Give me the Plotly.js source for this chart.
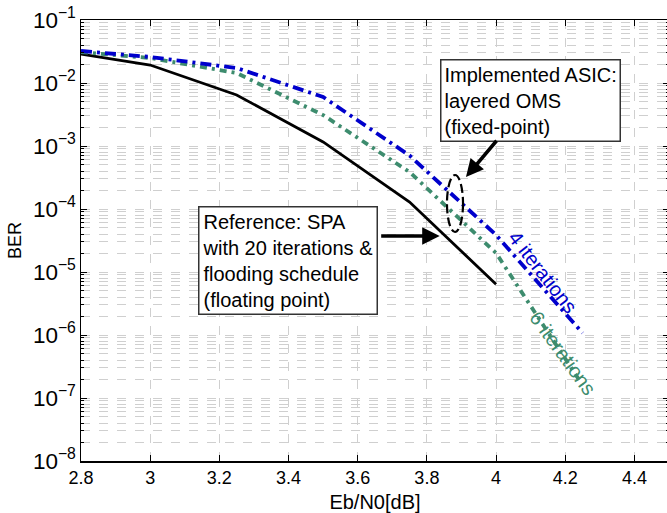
<!DOCTYPE html>
<html>
<head>
<meta charset="utf-8">
<script src="https://cdn.plot.ly/plotly-3.0.1.min.js"></script>
<style>html,body{margin:0;padding:0;overflow:hidden;background:#fff;}</style>
</head>
<body>
<div id="chart"></div>
<script>
// Eb/N0 [dB]
const snrRef = [2.8, 3.0, 3.25, 3.5, 3.75, 4.0];
const snrAsic = [2.8, 3.0, 3.25, 3.5, 3.75, 4.0, 4.25];
// BER values
const berSPA20 = [0.0288, 0.0193, 0.00646, 0.00116, 1.29e-4, 6.4e-6];
const berOMS4 = [0.0322, 0.0259, 0.0173, 0.0060, 7.05e-4, 3.87e-5, 1.08e-6];
const berOMS6 = [0.031, 0.0249, 0.0144, 0.0031, 3.86e-4, 2.0e-5, 1.6e-7];
const xTickVals = [2.8, 3.0, 3.2, 3.4, 3.6, 3.8, 4.0, 4.2, 4.4];
const xTickText = ['2.8', '3', '3.2', '3.4', '3.6', '3.8', '4', '4.2', '4.4'];

const FONT = 'Liberation Sans, Arial, Helvetica, sans-serif';
const BLUE = '#0000cc';
const GREEN = '#3d8c6e';
const GRID = '#cfcfcf';

const traces = [
  {x: snrRef, y: berSPA20, mode: 'lines', name: 'SPA 20 it.',
   line: {color: '#000000', width: 2.8}},
  {x: snrAsic, y: berOMS6, mode: 'lines', name: '6 iterations',
   line: {color: GREEN, width: 3.8, dash: '7px,5px,3px,5px'}},
  {x: snrAsic, y: berOMS4, mode: 'lines', name: '4 iterations',
   line: {color: BLUE, width: 3.8, dash: '11px,5px,3px,5px'}}
];

const layout = {
  width: 670, height: 513,
  margin: {l: 81, r: 1, t: 20, b: 52},
  paper_bgcolor: '#ffffff', plot_bgcolor: '#ffffff',
  showlegend: false,
  font: {family: FONT, size: 18, color: '#000'},
  xaxis: {
    range: [2.8, 4.5], tickvals: xTickVals, ticktext: xTickText,
    showline: true, linecolor: '#000', linewidth: 1.5, mirror: 'ticks',
    ticks: 'inside', ticklen: 6, tickcolor: '#000', tickwidth: 1,
    showgrid: true, gridcolor: GRID, griddash: 'dash', gridwidth: 1,
    zeroline: false, tickfont: {size: 18, family: FONT},
    title: {text: 'Eb/N0[dB]', font: {size: 20, family: FONT}, standoff: 10},
    automargin: false
  },
  yaxis: {
    type: 'log', range: [-8, -1], dtick: 1, exponentformat: 'power',
    showline: true, linecolor: '#000', linewidth: 1.5, mirror: 'ticks',
    ticks: 'inside', ticklen: 6, tickcolor: '#000', tickwidth: 1,
    showgrid: true, gridcolor: GRID, griddash: 'dash', gridwidth: 1,
    minor: {dtick: 'D1', showgrid: true, gridcolor: GRID, griddash: 'dash',
            gridwidth: 1, ticks: 'inside', ticklen: 3, tickcolor: '#000'},
    zeroline: false, tickfont: {size: 18, family: FONT},
    title: {text: 'BER', font: {size: 18, family: FONT}, standoff: 6},
    automargin: false
  },
  shapes: [
    {type: 'circle', xref: 'paper', yref: 'paper', x0: 0.6224, x1: 0.6497, y0: 0.5193, y1: 0.6485,
     line: {color: '#000', width: 2.2, dash: '9px,4px'}}
  ],
  annotations: [
    {x: 3.913, y: -3.492, xref: 'x', yref: 'y', ax: 65, ay: -77,
     text: 'Implemented ASIC:<br>layered OMS<br>(fixed-point)', align: 'left',
     font: {size: 20, family: FONT, color: '#000'},
     bgcolor: '#ffffff', bordercolor: '#333', borderwidth: 1.5, borderpad: 3,
     showarrow: true, arrowhead: 2, arrowsize: 1, arrowwidth: 3.5, arrowcolor: '#000'},
    {x: 3.398, y: -4.817, xref: 'x', yref: 'y',
     text: 'Reference: SPA<br>with 20 iterations &amp;<br>flooding schedule<br>(floating point)', align: 'left',
     font: {size: 20, family: FONT, color: '#000'},
     bgcolor: '#ffffff', bordercolor: '#333', borderwidth: 1.5, borderpad: 3,
     showarrow: false},
    {x: 3.837, y: -4.429, xref: 'x', yref: 'y', ax: -60, ay: 0, text: '',
     showarrow: true, arrowhead: 2, arrowsize: 1, arrowwidth: 3.5, arrowcolor: '#000'},
    {x: 4.135, y: -5.0, xref: 'x', yref: 'y', text: '4 iterations', showarrow: false,
     textangle: 52, font: {size: 20, family: FONT, color: BLUE}},
    {x: 4.193, y: -6.286, xref: 'x', yref: 'y', text: '6 iterations', showarrow: false,
     textangle: 54, font: {size: 20, family: FONT, color: GREEN}}
  ]
};

Plotly.newPlot('chart', traces, layout, {displayModeBar: false, staticPlot: true});
</script>
</body>
</html>
